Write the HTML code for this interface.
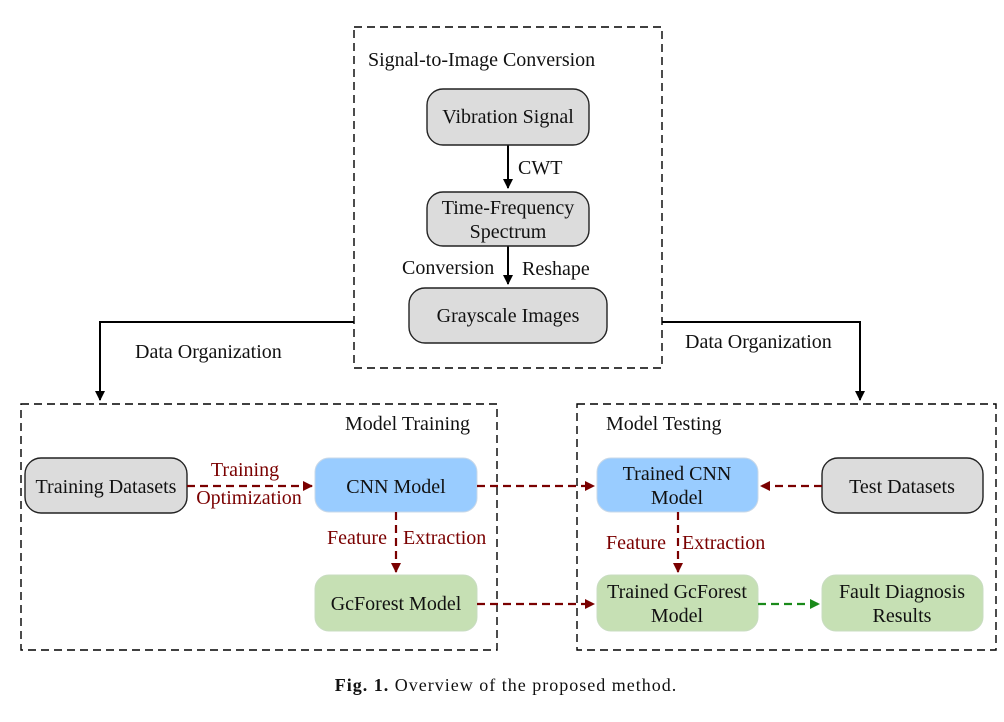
<!DOCTYPE html>
<html><head><style>
body{margin:0;background:#fff;}
svg text{font-family:"Liberation Serif",serif;}
</style></head><body>
<svg width="1004" height="717" viewBox="0 0 1004 717" xmlns="http://www.w3.org/2000/svg">
<defs>
<marker id="ab" markerWidth="10" markerHeight="10" refX="9" refY="5" orient="auto" markerUnits="userSpaceOnUse"><path d="M0,0 L10,5 L0,10 z" fill="#000"/></marker>
<marker id="ar" markerWidth="10" markerHeight="10" refX="9" refY="5" orient="auto" markerUnits="userSpaceOnUse"><path d="M0,0 L10,5 L0,10 z" fill="#7a0000"/></marker>
<marker id="ag" markerWidth="10" markerHeight="10" refX="9" refY="5" orient="auto" markerUnits="userSpaceOnUse"><path d="M0,0 L10,5 L0,10 z" fill="#1a8a1a"/></marker>
</defs>
<g fill="none" stroke="#000" stroke-width="1.4" stroke-dasharray="8,5">
<rect x="354" y="27" width="308" height="341"/>
<rect x="21" y="404" width="476" height="246"/>
<rect x="577" y="404" width="419" height="246"/>
</g>
<g stroke="#000" stroke-width="2" fill="none">
<path d="M354,322 H100 V400" marker-end="url(#ab)"/>
<path d="M662,322 H860 V400" marker-end="url(#ab)"/>
<path d="M508,145 V188" marker-end="url(#ab)"/>
<path d="M508,246 V284" marker-end="url(#ab)"/>
</g>
<g stroke="#222" stroke-width="1.4">
<rect x="427" y="89" width="162" height="56" rx="16" fill="#dcdcdc"/>
<rect x="427" y="192" width="162" height="54" rx="16" fill="#dcdcdc"/>
<rect x="409" y="288" width="198" height="55" rx="16" fill="#dcdcdc"/>
<rect x="25" y="458" width="162" height="55" rx="16" fill="#dcdcdc"/>
<rect x="822" y="458" width="161" height="55" rx="16" fill="#dcdcdc"/>
</g>
<g stroke="#c8d8e8" stroke-width="1">
<rect x="315" y="458" width="162" height="54" rx="14" fill="#99ccff"/>
<rect x="597" y="458" width="161" height="54" rx="14" fill="#99ccff"/>
</g>
<g stroke="#c8dcc0" stroke-width="1">
<rect x="315" y="575" width="162" height="56" rx="14" fill="#c6e0b4"/>
<rect x="597" y="575" width="161" height="56" rx="14" fill="#c6e0b4"/>
<rect x="822" y="575" width="161" height="56" rx="14" fill="#c6e0b4"/>
</g>
<g stroke="#7a0000" stroke-width="2.2" stroke-dasharray="8,5" fill="none">
<path d="M187,486 H312" marker-end="url(#ar)"/>
<path d="M477,486 H594" marker-end="url(#ar)"/>
<path d="M822,486 H761" marker-end="url(#ar)"/>
<path d="M396,512 V572" marker-end="url(#ar)"/>
<path d="M678,512 V572" marker-end="url(#ar)"/>
<path d="M477,604 H594" marker-end="url(#ar)"/>
</g>
<path d="M758,604 H819" stroke="#1a8a1a" stroke-width="2.2" stroke-dasharray="8,5" fill="none" marker-end="url(#ag)"/>
<g font-size="20" fill="#111">
<text x="368" y="66">Signal-to-Image Conversion</text>
<text x="508" y="123" text-anchor="middle">Vibration Signal</text>
<text x="518" y="174">CWT</text>
<text x="508" y="214" text-anchor="middle">Time-Frequency</text>
<text x="508" y="238" text-anchor="middle">Spectrum</text>
<text x="402" y="274">Conversion</text>
<text x="522" y="275">Reshape</text>
<text x="508" y="322" text-anchor="middle">Grayscale Images</text>
<text x="135" y="358">Data Organization</text>
<text x="685" y="348">Data Organization</text>
<text x="345" y="430">Model Training</text>
<text x="606" y="430">Model Testing</text>
<text x="106" y="493" text-anchor="middle">Training Datasets</text>
<text x="396" y="493" text-anchor="middle">CNN Model</text>
<text x="396" y="610" text-anchor="middle">GcForest Model</text>
<text x="677" y="480" text-anchor="middle">Trained CNN</text>
<text x="677" y="504" text-anchor="middle">Model</text>
<text x="902" y="493" text-anchor="middle">Test Datasets</text>
<text x="677" y="598" text-anchor="middle">Trained GcForest</text>
<text x="677" y="622" text-anchor="middle">Model</text>
<text x="902" y="598" text-anchor="middle">Fault Diagnosis</text>
<text x="902" y="622" text-anchor="middle">Results</text>
</g>
<g font-size="20" fill="#7a0000">
<text x="245" y="476" text-anchor="middle">Training</text>
<text x="249" y="504" text-anchor="middle">Optimization</text>
<text x="327" y="544">Feature</text>
<text x="403" y="544">Extraction</text>
<text x="606" y="549">Feature</text>
<text x="682" y="549">Extraction</text>
</g>
<text x="506" y="691" text-anchor="middle" font-size="18" letter-spacing="1" fill="#111"><tspan font-weight="bold">Fig. 1.</tspan> Overview of the proposed method.</text>
</svg>
</body></html>
